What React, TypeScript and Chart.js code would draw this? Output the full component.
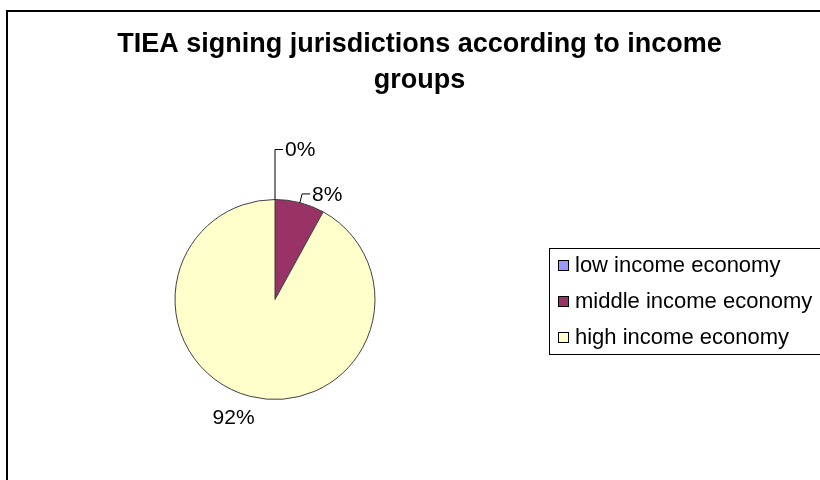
import React, { useEffect, useRef } from 'react';
import { Chart, registerables } from 'chart.js';

Chart.register(...registerables);

const TITLE_LINES = ['TIEA signing jurisdictions according to income', 'groups'];
const CATEGORIES = ['low income economy', 'middle income economy', 'high income economy'];
const VALUES = [0, 8, 92];
const COLORS = ['#9999FF', '#993366', '#FFFFCC'];

// label placement style (leader rise along slice direction, or free offset)
const LABEL_STYLE = [
  { rise: 50, dx: 0, dy: 0 },
  { rise: 9, dx: 0, dy: 0 },
  { rise: 0, dx: -16.5, dy: 21.5 },
];

const FONT = '"Liberation Sans", Arial, sans-serif';

const decorPlugin = {
  id: 'decor',
  afterDraw(chart: any) {
    const ctx = chart.ctx as CanvasRenderingContext2D;
    ctx.save();
    // outer chart border
    ctx.strokeStyle = '#000';
    ctx.lineWidth = 2;
    ctx.strokeRect(7, 11, 900, 600);

    // title
    ctx.fillStyle = '#000';
    ctx.font = `bold 27px ${FONT}`;
    ctx.textAlign = 'center';
    ctx.textBaseline = 'alphabetic';
    ctx.fillText(TITLE_LINES[0], 419.5, 52);
    ctx.fillText(TITLE_LINES[1], 419.5, 88);

    // data labels
    const meta = chart.getDatasetMeta(0);
    const total = VALUES.reduce((a, b) => a + b, 0);
    ctx.font = `21px ${FONT}`;
    ctx.textBaseline = 'middle';
    meta.data.forEach((arc: any, i: number) => {
      const { x, y, startAngle, endAngle, outerRadius } = arc.getProps(
        ['x', 'y', 'startAngle', 'endAngle', 'outerRadius'],
        true
      );
      const mid = (startAngle + endAngle) / 2;
      const dx = Math.cos(mid);
      const dy = Math.sin(mid);
      const ex = x + dx * outerRadius;
      const ey = y + dy * outerRadius;
      const txt = Math.round((VALUES[i] / total) * 100) + '%';
      const st = LABEL_STYLE[i];
      if (st.rise > 0) {
        const px = ex + dx * st.rise;
        const py = ey + dy * st.rise;
        ctx.strokeStyle = '#000';
        ctx.lineWidth = 1;
        ctx.beginPath();
        ctx.moveTo(ex, ey);
        ctx.lineTo(px, py);
        ctx.lineTo(px + 8, py);
        ctx.stroke();
        ctx.textAlign = 'left';
        ctx.fillText(txt, px + 10, py + 1);
      } else {
        ctx.textAlign = 'center';
        ctx.fillText(txt, ex + st.dx, ey + st.dy);
      }
    });

    // legend
    const lx = 549;
    const ly = 248;
    const lh = 106;
    ctx.strokeStyle = '#000';
    ctx.lineWidth = 1;
    ctx.strokeRect(lx + 0.5, ly + 0.5, 400, lh);
    ctx.font = `22px ${FONT}`;
    ctx.textAlign = 'left';
    ctx.textBaseline = 'middle';
    CATEGORIES.forEach((c, i) => {
      const ry = 265 + i * 36;
      ctx.fillStyle = COLORS[i];
      ctx.fillRect(558, ry - 5, 11, 11);
      ctx.strokeStyle = '#000';
      ctx.strokeRect(558.5, ry - 4.5, 10, 10);
      ctx.fillStyle = '#000';
      ctx.fillText(c, 575, ry + 1);
    });
    ctx.restore();
  },
};

export default function App() {
  const ref = useRef<HTMLCanvasElement | null>(null);
  useEffect(() => {
    if (!ref.current) return;
    const chart = new Chart(ref.current, {
      type: 'pie',
      data: {
        labels: CATEGORIES,
        datasets: [
          {
            data: VALUES,
            backgroundColor: COLORS,
            borderColor: '#404040',
            borderWidth: 1,
          },
        ],
      },
      options: {
        responsive: false,
        animation: false,
        devicePixelRatio: 1,
        radius: 100,
        layout: { padding: { left: 150, right: 420, top: 199, bottom: 80 } },
        plugins: {
          legend: { display: false },
          title: { display: false },
          tooltip: { enabled: false },
        },
      } as any,
      plugins: [decorPlugin],
    });
    return () => chart.destroy();
  }, []);
  return (
    <div style={{ position: 'absolute', left: 0, top: 0, width: 820, height: 480, background: '#fff' }}>
      <canvas ref={ref} width={820} height={480} style={{ display: 'block' }} />
    </div>
  );
}
